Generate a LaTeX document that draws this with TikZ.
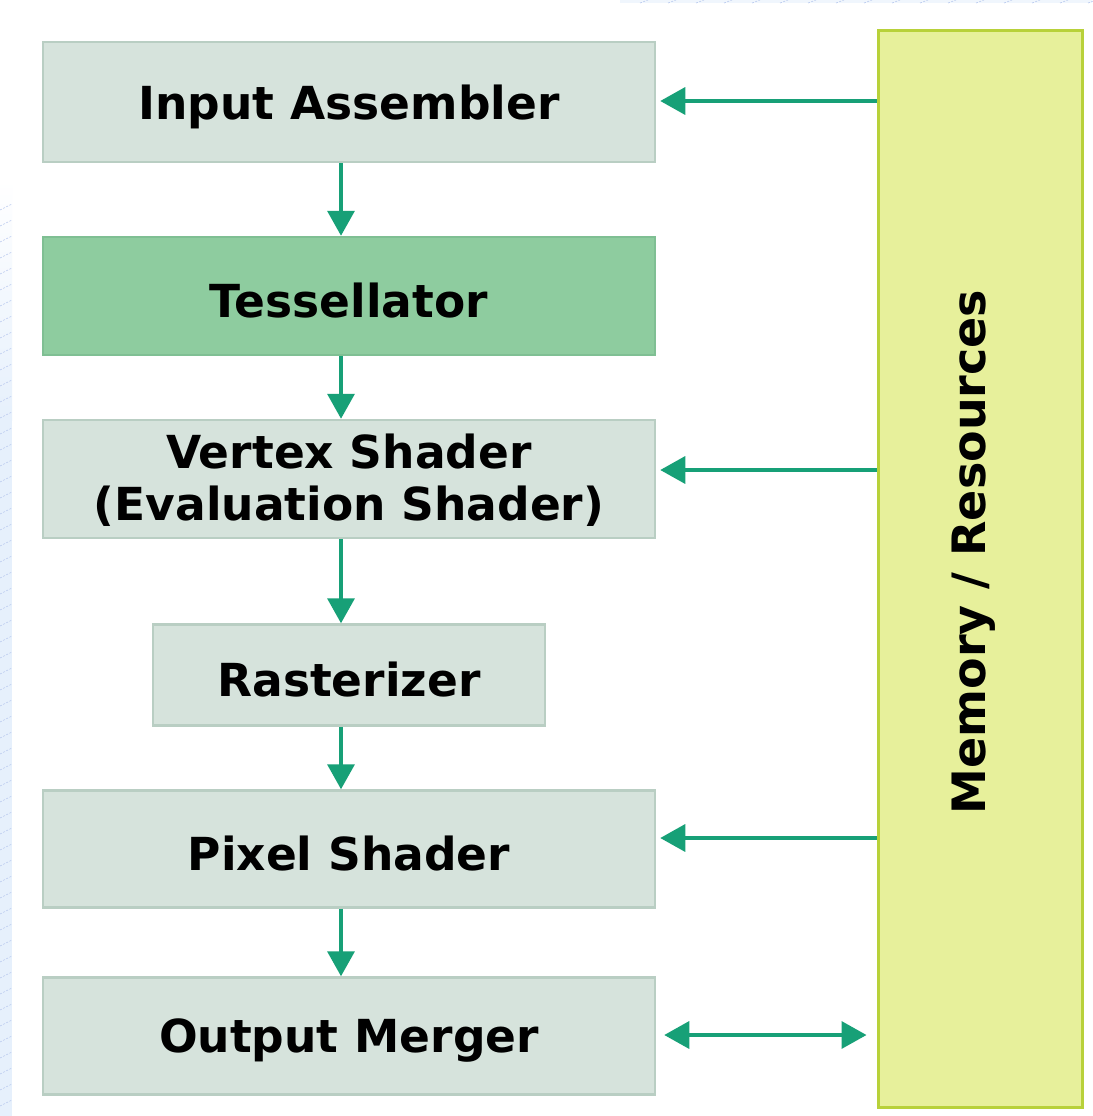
\documentclass[tikz,border=0pt]{standalone}
\usepackage{fontspec}
\setmainfont{DejaVu Sans}
\usetikzlibrary{arrows.meta}
\definecolor{stagefill}{HTML}{D6E3DC}
\definecolor{stageline}{HTML}{B9CEC3}
\definecolor{tessfill}{HTML}{8ECC9F}
\definecolor{tessline}{HTML}{7FBF93}
\definecolor{memfill}{HTML}{E7F09B}
\definecolor{memline}{HTML}{B8D13A}
\definecolor{flow}{HTML}{17A077}
\definecolor{paper}{HTML}{E6F0FC}
\definecolor{hatch}{HTML}{B9C9EE}
% lower a label slightly without changing its box
\newcommand{\lbl}[1]{\raisebox{-5pt}[\height][\depth]{#1}}
\begin{document}
\begin{tikzpicture}[x=1pt,y=-1pt,
  stage/.style={draw=stageline, line width=2.5pt, fill=stagefill, font=\fontsize{45.5}{54}\selectfont\bfseries, align=center, inner sep=0pt},
  flowarrow/.style={draw=flow, line width=3.5pt, -{Triangle[length=25pt,width=27pt]}},
  flowboth/.style={draw=flow, line width=3.5pt, {Triangle[length=25pt,width=27pt]}-{Triangle[length=25pt,width=27pt]}}
]
\useasboundingbox (0,0) rectangle (1092,1116);
% page background with hatched margin strips
\fill[white] (0,0) rectangle (1092,1116);
\shade[top color=white, bottom color=paper] (0,180) rectangle (12,420);
\fill[paper] (0,420) rectangle (12,1116);
\foreach \yy in {210,226,...,1116}
  \draw[hatch, line width=0.6pt, dash pattern=on 2pt off 1.5pt] (0,\yy) -- (12,\yy-6);
\fill[paper!60] (620,0) rectangle (1092,3);
\foreach \xx in {640,668,...,1092}
  \draw[hatch, line width=0.6pt, dash pattern=on 2pt off 1.5pt] (\xx,3) -- (\xx+8,0);

% pipeline stages
\node[stage, minimum width=612pt, minimum height=120pt] (ia) at (349,102) {\lbl{Input Assembler}};
\node[stage, fill=tessfill, draw=tessline, minimum width=612pt, minimum height=118pt] (tess) at (349,296) {\lbl{Tessellator}};
\node[stage, minimum width=612pt, minimum height=118pt] (vs) at (349,479) {\lbl{\begin{tabular}{@{}c@{}}Vertex Shader\\[-2pt](Evaluation Shader)\end{tabular}}};
\node[stage, minimum width=392pt, minimum height=101pt] (rast) at (349,675) {\lbl{Rasterizer}};
\node[stage, minimum width=612pt, minimum height=117pt] (ps) at (349,849) {\lbl{Pixel Shader}};
\node[stage, minimum width=612pt, minimum height=117pt] (om) at (349,1036) {\lbl{Output Merger}};

% memory column
\node[draw=memline, line width=3pt, fill=memfill, minimum width=204pt, minimum height=1077pt, inner sep=0pt] (mem) at (980,569) {};
\node[rotate=90, font=\fontsize{46}{54}\selectfont\bfseries] (memtxt) at (974,552) {Memory / Resources};

% data flow down the pipeline
\draw[flowarrow] (ia.south -| 341,0) -- (tess.north -| 341,0);
\draw[flowarrow] (tess.south -| 341,0) -- (vs.north -| 341,0);
\draw[flowarrow] (vs.south -| 341,0) -- (rast.north -| 341,0);
\draw[flowarrow] (rast.south -| 341,0) -- (ps.north -| 341,0);
\draw[flowarrow] (ps.south -| 341,0) -- (om.north -| 341,0);

% resource reads and writes
\coordinate (omL) at ([xshift=8pt]om.east |- 0,1035);
\coordinate (memL) at ([xshift=-10pt]mem.west |- 0,1035);
\draw[flowarrow] (mem.west |- 0,101) -- ([xshift=4pt]ia.east |- 0,101);
\draw[flowarrow] (mem.west |- 0,470) -- ([xshift=4pt]vs.east |- 0,470);
\draw[flowarrow] (mem.west |- 0,838) -- ([xshift=4pt]ps.east |- 0,838);
\draw[flowboth] (omL) -- (memL);
\end{tikzpicture}
\end{document}
